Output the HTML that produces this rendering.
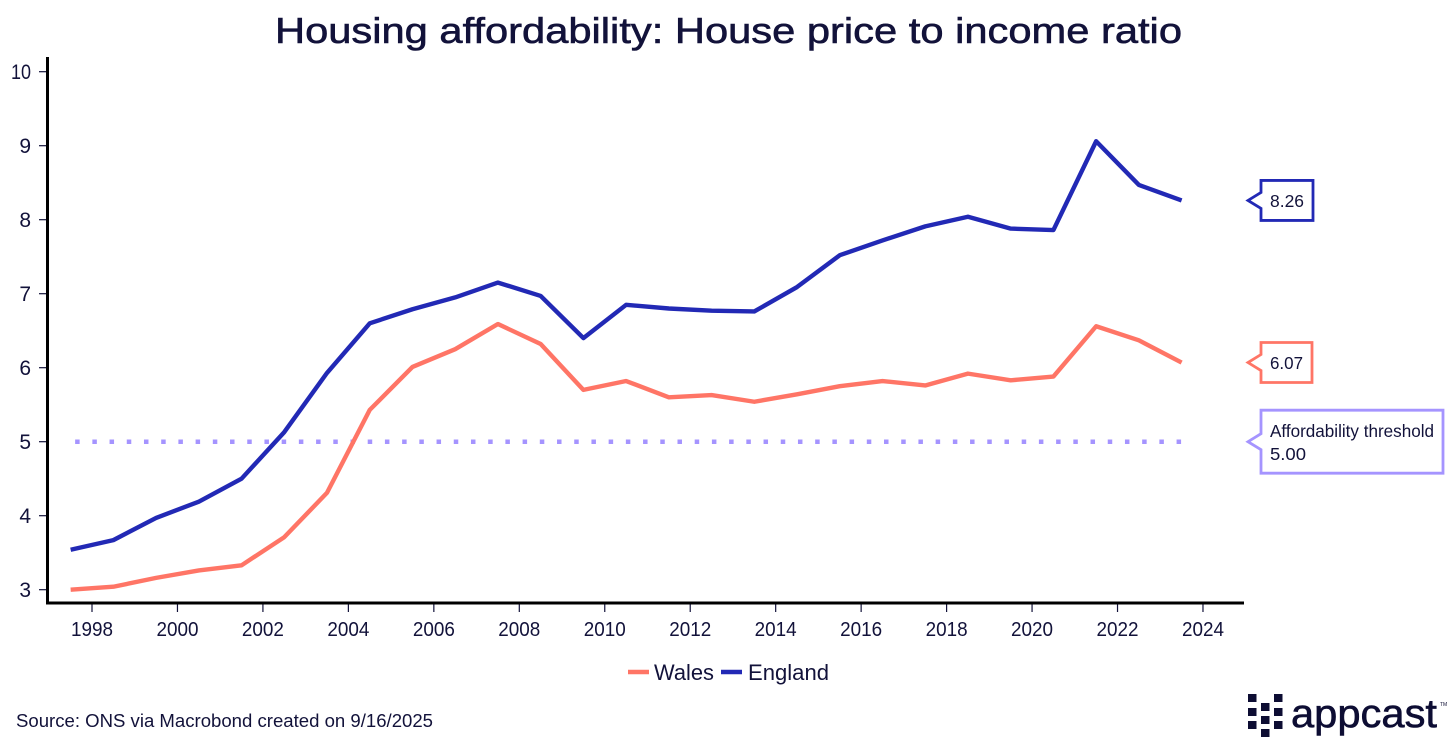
<!DOCTYPE html>
<html lang="en">
<head>
<meta charset="utf-8">
<title>Housing affordability: House price to income ratio</title>
<style>
html,body{margin:0;padding:0;background:#fff;width:1456px;height:749px;overflow:hidden}
svg{display:block}
text{font-family:"Liberation Sans",sans-serif;fill:#12123a}
</style>
</head>
<body>
<svg id="chart" xmlns="http://www.w3.org/2000/svg" width="1456" height="749" viewBox="0 0 1456 749">
  <text x="275" y="43" font-size="36" textLength="907" lengthAdjust="spacingAndGlyphs" stroke="#12123a" stroke-width="0.6">Housing affordability: House price to income ratio</text>
  <g id="plot"></g>
  <g>
    <g>
      <line x1="628" y1="672" x2="649" y2="672" stroke="#ff7566" stroke-width="4.4"/>
      <text x="654" y="680" font-size="22" textLength="60" lengthAdjust="spacingAndGlyphs">Wales</text>
    </g>
    <g>
      <line x1="721" y1="672" x2="742" y2="672" stroke="#2229b5" stroke-width="4.4"/>
      <text x="748" y="680" font-size="22" textLength="81" lengthAdjust="spacingAndGlyphs">England</text>
    </g>
  </g>
  <text x="16" y="727" font-size="18" textLength="417" lengthAdjust="spacingAndGlyphs">Source: ONS via Macrobond created on 9/16/2025</text>
  <g>
    <g fill="#0d0d33">
      <rect x="1248" y="694" width="8.5" height="8"/><rect x="1274" y="694" width="8.5" height="8"/>
      <rect x="1248" y="708" width="8.5" height="8"/><rect x="1261" y="703" width="8.5" height="8"/><rect x="1274" y="708" width="8.5" height="8"/>
      <rect x="1248" y="721" width="8.5" height="8"/><rect x="1261" y="716" width="8.5" height="8"/><rect x="1274" y="721" width="8.5" height="8"/>
      <rect x="1261" y="729" width="8.5" height="8"/>
    </g>
    <text x="1291" y="727" font-size="40" textLength="146" lengthAdjust="spacingAndGlyphs" stroke="#0d0d33" stroke-width="0.6" style="fill:#0d0d33">appcast</text>
    <text x="1440" y="706" font-size="5" style="fill:#0d0d33">TM</text>
  </g>
</svg>
<script>
const years = [1997.5,1998.5,1999.5,2000.5,2001.5,2002.5,2003.5,2004.5,2005.5,2006.5,2007.5,2008.5,2009.5,2010.5,2011.5,2012.5,2013.5,2014.5,2015.5,2016.5,2017.5,2018.5,2019.5,2020.5,2021.5,2022.5,2023.5];
const englandValues = [3.54,3.67,3.97,4.19,4.50,5.13,5.93,6.60,6.79,6.95,7.15,6.97,6.40,6.85,6.80,6.77,6.76,7.09,7.52,7.72,7.91,8.04,7.88,7.86,9.06,8.47,8.26];
const walesValues = [3.00,3.04,3.16,3.26,3.33,3.71,4.31,5.43,6.01,6.25,6.59,6.32,5.70,5.82,5.60,5.63,5.54,5.64,5.75,5.82,5.76,5.92,5.83,5.88,6.56,6.37,6.07];
const thresholdValues = [5,5];
const thresholdYears = [1997.5,2023.5];
const xTickLabels = [1998,2000,2002,2004,2006,2008,2010,2012,2014,2016,2018,2020,2022,2024];
const yTickLabels = [3,4,5,6,7,8,9,10];

const NS = 'http://www.w3.org/2000/svg';
const plot = document.getElementById('plot');
const xScale = function (v) { return 92 + (v - 1998) * 42.73; };
const yScale = function (v) { return 589.7 - (v - 3) * 74; };
const ink = '#12123a';

function make(tag, attrs, parent) {
  const el = document.createElementNS(NS, tag);
  for (const k in attrs) el.setAttribute(k, attrs[k]);
  parent.appendChild(el);
  return el;
}
function pathFrom(xs, ys) {
  return xs.map(function (x, i) {
    return (i ? 'L' : 'M') + xScale(x).toFixed(2) + ' ' + yScale(ys[i]).toFixed(2);
  }).join(' ');
}

xTickLabels.forEach(function (t) {
  const tick = make('line', {x1: xScale(t), x2: xScale(t), y1: 603, y2: 612, stroke: ink, 'stroke-width': 1.2}, plot);
  
  
  const label = make('text', {x: xScale(t), y: 636, 'font-size': 20, 'text-anchor': 'middle', textLength: 42, lengthAdjust: 'spacingAndGlyphs'}, plot);
  label.textContent = t;
  
  
});

yTickLabels.forEach(function (t) {
  const tick = make('line', {x1: 39, x2: 47, y1: yScale(t), y2: yScale(t), stroke: ink, 'stroke-width': 1.2}, plot);
  
  
  const label = make('text', {x: 31, y: yScale(t) + 7.5, 'font-size': 21, 'text-anchor': 'end'}, plot);
  label.textContent = t;
  if (String(t).length > 1) {
    label.setAttribute('textLength', 20);
    label.setAttribute('lengthAdjust', 'spacingAndGlyphs');
  }
  
  
});

const yAxis = make('line', {x1: 47.5, x2: 47.5, y1: 57, y2: 604.5, stroke: '#000', 'stroke-width': 3}, plot);


const xAxis = make('line', {x1: 46, x2: 1244, y1: 603, y2: 603, stroke: '#000', 'stroke-width': 3}, plot);



const thresholdLine = make('path', {d: pathFrom(thresholdYears, thresholdValues), fill: 'none', stroke: '#a594ff', 'stroke-width': 4.5, 'stroke-dasharray': '4.5 12.71', 'stroke-dashoffset': -4.5}, plot);



const walesLine = make('path', {d: pathFrom(years, walesValues), fill: 'none', stroke: '#ff7566', 'stroke-width': 4.4, 'stroke-linejoin': 'round'}, plot);



const englandLine = make('path', {d: pathFrom(years, englandValues), fill: 'none', stroke: '#2229b5', 'stroke-width': 4.4, 'stroke-linejoin': 'round'}, plot);



function calloutPath(value, halfHeight, width) {
  const y = yScale(value);
  const left = 1261, right = left + width;
  return 'M' + left + ' ' + (y - halfHeight) + ' H' + right + ' V' + (y + halfHeight) + ' H' + left +
    ' V' + (y + 8) + ' L1248 ' + y + ' L' + left + ' ' + (y - 8) + ' Z';
}

const englandLast = englandValues[englandValues.length - 1];
const englandCallout = make('path', {d: calloutPath(englandLast, 20, 52), fill: '#fff', stroke: '#2229b5', 'stroke-width': 2.8}, plot);


const englandText = make('text', {x: 1270, y: yScale(englandLast) + 6.5, 'font-size': 17.5, textLength: 34, lengthAdjust: 'spacingAndGlyphs'}, plot);
englandText.textContent = englandLast.toFixed(2);



const walesLast = walesValues[walesValues.length - 1];
const walesCallout = make('path', {d: calloutPath(walesLast, 20, 51), fill: '#fff', stroke: '#ff7566', 'stroke-width': 2.8}, plot);


const walesText = make('text', {x: 1270, y: yScale(walesLast) + 6.5, 'font-size': 17.5, textLength: 33, lengthAdjust: 'spacingAndGlyphs'}, plot);
walesText.textContent = walesLast.toFixed(2);



const thresholdLast = thresholdValues[thresholdValues.length - 1];
const thresholdCallout = make('path', {d: calloutPath(thresholdLast, 31.5, 182), fill: '#fff', stroke: '#a594ff', 'stroke-width': 2.8}, plot);


const thresholdTitle = make('text', {x: 1270, y: yScale(thresholdLast) - 4.5, 'font-size': 17.5, textLength: 164, lengthAdjust: 'spacingAndGlyphs'}, plot);
thresholdTitle.textContent = 'Affordability threshold';


const thresholdText = make('text', {x: 1270, y: yScale(thresholdLast) + 18.5, 'font-size': 17.5, textLength: 36, lengthAdjust: 'spacingAndGlyphs'}, plot);
thresholdText.textContent = thresholdLast.toFixed(2);


</script>
</body>
</html>
